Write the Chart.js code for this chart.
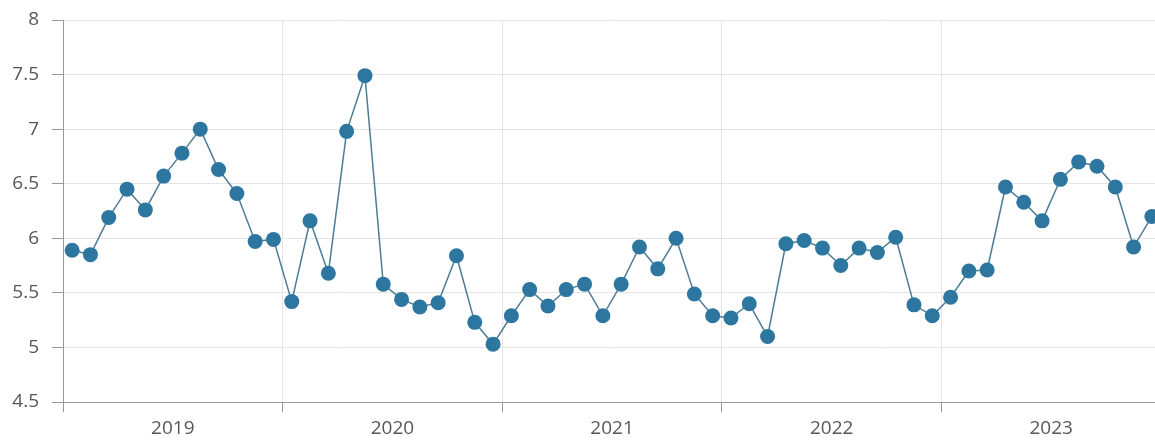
<!DOCTYPE html>
<html>
<head>
<meta charset="utf-8">
<script src="https://cdn.jsdelivr.net/npm/chart.js@4/dist/chart.umd.min.js"></script>
<style>
  body { margin: 0; background: #fff; }
  #wrap { width: 1155px; height: 440px; }
</style>
</head>
<body>
<div id="wrap"><canvas id="rate-chart" width="1155" height="440"></canvas></div>
<script>
// monthly values, Jan 2019 .. Dec 2023
var years = ['2019', '2020', '2021', '2022', '2023'];
var values2019 = [5.89, 5.85, 6.19, 6.45, 6.26, 6.57, 6.78, 7.00, 6.63, 6.41, 5.97, 5.99];
var values2020 = [5.42, 6.16, 5.68, 6.98, 7.49, 5.58, 5.44, 5.37, 5.41, 5.84, 5.23, 5.03];
var values2021 = [5.29, 5.53, 5.38, 5.53, 5.58, 5.29, 5.58, 5.92, 5.72, 6.00, 5.49, 5.29];
var values2022 = [5.27, 5.40, 5.10, 5.95, 5.98, 5.91, 5.75, 5.91, 5.87, 6.01, 5.39, 5.29];
var values2023 = [5.46, 5.70, 5.71, 6.47, 6.33, 6.16, 6.54, 6.70, 6.66, 6.47, 5.92, 6.20];
var yTicks = [4.5, 5, 5.5, 6, 6.5, 7, 7.5, 8];

var values = [].concat(values2019, values2020, values2021, values2022, values2023);
var points = [];
values.forEach(function (v, i) {
  points.push({ x: i + 0.5, y: v });
});

var textColor = '#575757';
var axisColor = '#999999';
var gridColor = '#e4e4e4';

var ctx = document.getElementById('rate-chart').getContext('2d');
var myChart = new Chart(ctx, {
  type: 'line',
  data: {
    datasets: [{
      data: points,
      borderColor: '#4d7c96',
      borderWidth: 1.5,
      backgroundColor: '#2d76a0',
      pointBackgroundColor: '#2d76a0',
      pointBorderColor: '#2d76a0',
      pointBorderWidth: 0,
      pointRadius: 7.5,
      tension: 0,
      fill: false
    }]
  },
  options: {
    responsive: false,
    animation: false,
    layout: {
      autoPadding: false,
      padding: { top: 20, right: 0, bottom: 0, left: 0 }
    },
    plugins: {
      legend: { display: false },
      tooltip: { enabled: false }
    },
    scales: {
      x: {
        type: 'linear',
        min: 0,
        max: 59.67,
        afterBuildTicks: function (scale) {
          var t = [];
          for (var m = 0; m < 60; m += 6) t.push({ value: m });
          scale.ticks = t;
        },
        afterFit: function (scale) {
          scale.height = 38;
          scale.paddingLeft = 0;
          scale.paddingRight = 0;
        },
        ticks: {
          autoSkip: false,
          maxRotation: 0,
          padding: 5,
          color: textColor,
          font: { family: 'Open Sans', size: 19 },
          callback: function (v) {
            return v % 12 === 6 ? years[(v - 6) / 12] : '';
          }
        },
        grid: {
          color: function (c) {
            return c.tick && c.tick.value % 12 === 0 ? gridColor : 'rgba(0,0,0,0)';
          },
          tickColor: function (c) {
            return c.tick && c.tick.value % 12 === 0 ? axisColor : 'rgba(0,0,0,0)';
          },
          tickLength: 10,
          lineWidth: 1
        },
        border: { color: axisColor, width: 1 }
      },
      y: {
        min: 4.5,
        max: 8,
        afterBuildTicks: function (scale) {
          scale.ticks = yTicks.map(function (v) { return { value: v }; });
        },
        afterFit: function (scale) {
          scale.width = 63;
          scale.paddingTop = 0;
          scale.paddingBottom = 0;
        },
        ticks: {
          padding: 13,
          color: textColor,
          font: { family: 'Open Sans', size: 19 },
          callback: function (v) {
            return String(v);
          }
        },
        grid: {
          color: gridColor,
          tickColor: axisColor,
          tickLength: 11,
          lineWidth: 1
        },
        border: { color: axisColor, width: 1 }
      }
    }
  }
});
</script>
</body>
</html>
